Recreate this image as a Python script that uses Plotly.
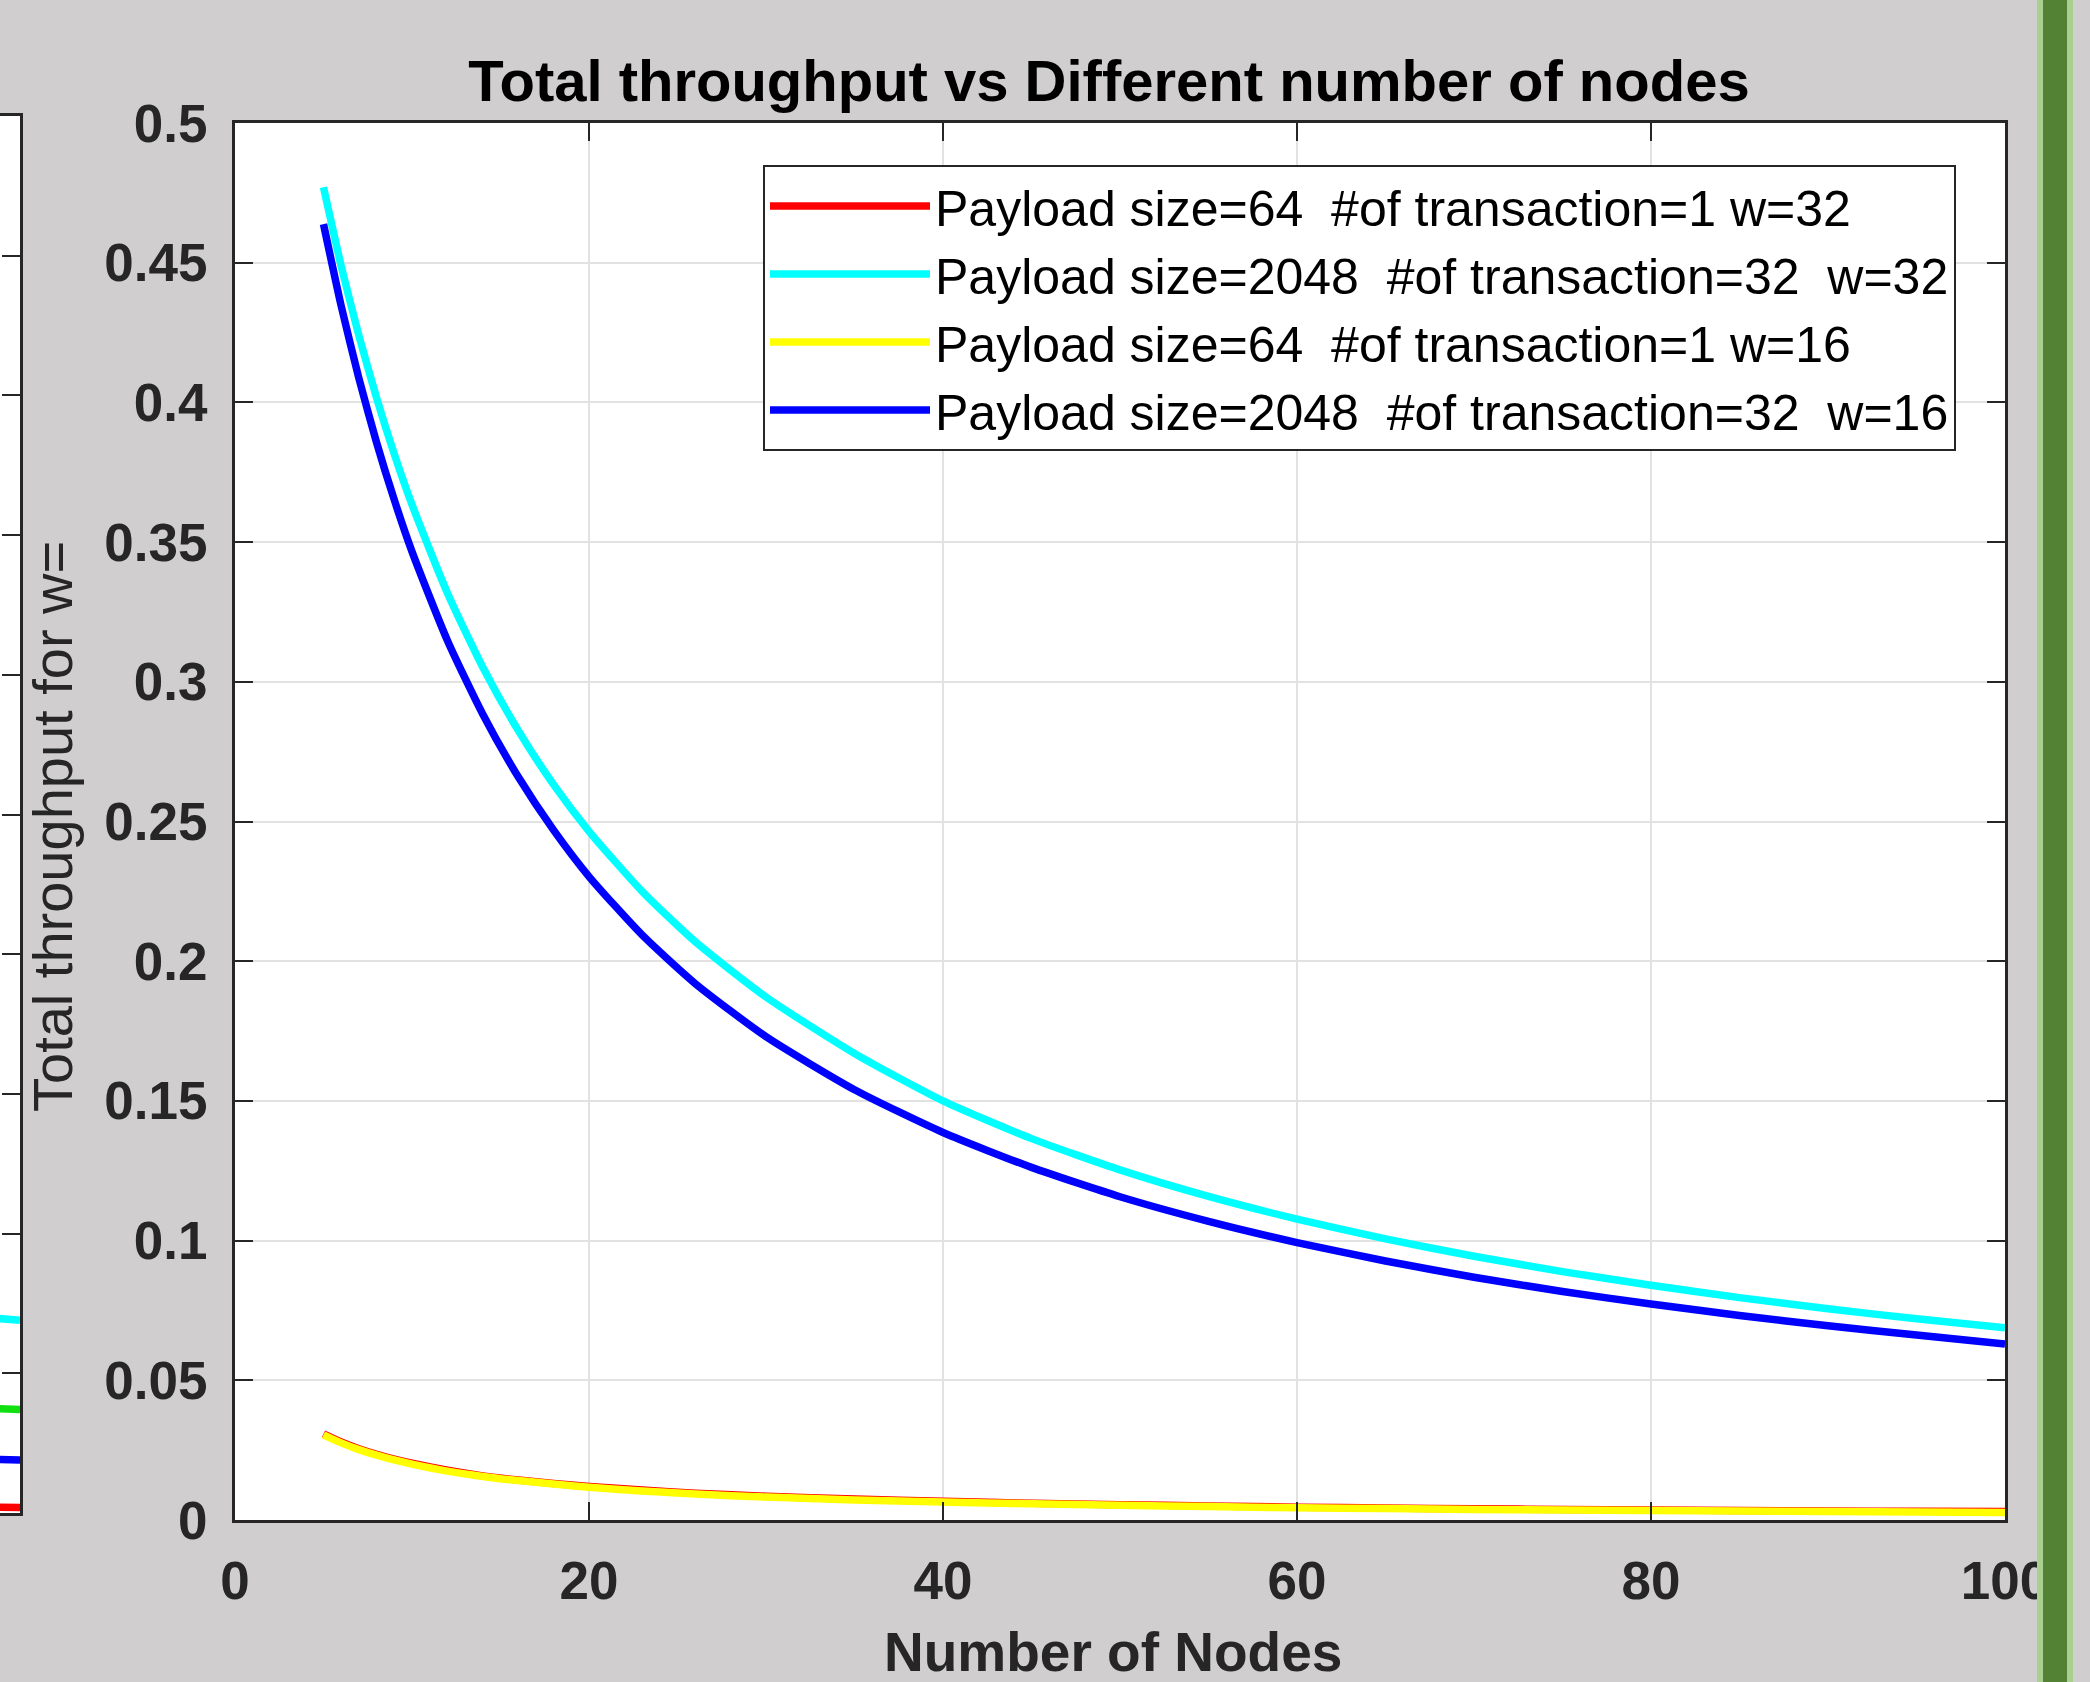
import plotly.graph_objects as go

# ---------------- data ----------------
nodes = [5, 6, 7, 8, 9, 10, 12, 14, 16, 18, 20, 23, 26, 30, 35, 40, 45, 50,
         55, 60, 65, 70, 75, 80, 85, 90, 95, 100]

thr_p64_t1_w32 = [0.0308, 0.0279, 0.0255, 0.0235, 0.0218, 0.0203, 0.0178,
                  0.0158, 0.0143, 0.0131, 0.0120, 0.0107, 0.0096, 0.0085,
                  0.0075, 0.0067, 0.0060, 0.0055, 0.0050, 0.0046, 0.0043,
                  0.0040, 0.0038, 0.0036, 0.0034, 0.0032, 0.0031, 0.0030]
thr_p2048_t32_w32 = [0.4770, 0.4488, 0.4239, 0.4016, 0.3815, 0.3634, 0.3318,
                     0.3052, 0.2826, 0.2632, 0.2465, 0.2250, 0.2070, 0.1872,
                     0.1670, 0.1500, 0.1365, 0.1253, 0.1158, 0.1077, 0.1006,
                     0.0944, 0.0889, 0.0840, 0.0796, 0.0756, 0.0720, 0.0688]
thr_p64_t1_w16 = [0.0305, 0.0276, 0.0252, 0.0232, 0.0215, 0.0200, 0.0175,
                  0.0156, 0.0141, 0.0129, 0.0117, 0.0104, 0.0093, 0.0082,
                  0.0072, 0.0064, 0.0058, 0.0053, 0.0048, 0.0044, 0.0041,
                  0.0038, 0.0036, 0.0034, 0.0032, 0.0030, 0.0029, 0.0027]
thr_p2048_t32_w16 = [0.4638, 0.4345, 0.4086, 0.3856, 0.3651, 0.3466, 0.3148,
                     0.2884, 0.2660, 0.2469, 0.2303, 0.2094, 0.1920, 0.1730,
                     0.1540, 0.1387, 0.1262, 0.1157, 0.1069, 0.0993, 0.0927,
                     0.0869, 0.0818, 0.0773, 0.0732, 0.0695, 0.0662, 0.0630]

series_names = [
    "Payload size=64\u00a0 #of transaction=1 w=32",
    "Payload size=2048\u00a0 #of transaction=32\u00a0 w=32",
    "Payload size=64\u00a0 #of transaction=1 w=16",
    "Payload size=2048\u00a0 #of transaction=32\u00a0 w=16",
]
series_values = [thr_p64_t1_w32, thr_p2048_t32_w32, thr_p64_t1_w16, thr_p2048_t32_w16]
series_colors = ["#ff0000", "#00ffff", "#ffff00", "#0000ff"]

# neighbouring (cropped) panel on the far left: only its right end is visible
left_nodes = [96, 100]
left_cyan = [0.071, 0.069]
left_green = [0.038, 0.037]
left_blue = [0.0195, 0.019]
left_red = [0.0021, 0.0020]
left_values = [left_cyan, left_green, left_blue, left_red]
left_colors = ["#00ffff", "#10e010", "#0000ff", "#ff0000"]

x_tickvals = [0, 20, 40, 60, 80, 100]
x_ticktext = ["0", "20", "40", "60", "80", "100"]
y_tickvals = [0, 0.05, 0.1, 0.15, 0.2, 0.25, 0.3, 0.35, 0.4, 0.45, 0.5]
y_ticktext = ["0", "0.05", "0.1", "0.15", "0.2", "0.25", "0.3", "0.35", "0.4", "0.45", "0.5"]

title_text = "Total throughput vs Different number of nodes"
xlabel_text = "Number of Nodes"
ylabel_text = "Total throughput for w="

# ---------------- figure ----------------
W, H = 2090, 1682
FONT = "Liberation Sans, Arial, sans-serif"
AX = "#262626"
BG = "#d0cecf"
LW = 7.5

fig = go.Figure()

for name, vals, col in zip(series_names, series_values, series_colors):
    fig.add_trace(go.Scatter(
        x=nodes, y=vals, name=name, mode="lines",
        line=dict(color=col, width=LW, shape="spline", smoothing=0.6),
        xaxis="x", yaxis="y",
    ))

for vals, col in zip(left_values, left_colors):
    fig.add_trace(go.Scatter(
        x=left_nodes, y=vals, mode="lines", showlegend=False,
        line=dict(color=col, width=LW), xaxis="x2", yaxis="y2",
    ))

tickfont = dict(family=FONT, size=53, color=AX, weight="bold")
common = dict(ticks="inside", ticklen=18, tickwidth=2, tickcolor=AX,
              showline=True, linecolor=AX, linewidth=3, zeroline=False,
              automargin=False)

fig.update_layout(
    width=W, height=H, autosize=False,
    margin=dict(l=0, r=0, t=0, b=0, pad=0, autoexpand=False),
    paper_bgcolor=BG, plot_bgcolor="white",
    title=dict(text=title_text, x=1109 / W, xanchor="center", xref="paper",
               y=1 - 81 / H, yanchor="middle", yref="paper",
               font=dict(family=FONT, size=58, color="black", weight="bold")),
    xaxis=dict(domain=[235 / W, 2005 / W], range=[0, 100], anchor="y",
               tickvals=x_tickvals, ticktext=x_ticktext, tickfont=tickfont,
               mirror="ticks", showgrid=True, gridcolor="#e2e2e2", gridwidth=2,
               ticklabelstandoff=12, **common),
    yaxis=dict(domain=[1 - 1520 / H, 1 - 123 / H], range=[0, 0.5], anchor="x",
               tickvals=y_tickvals, ticktext=y_ticktext, tickfont=tickfont,
               mirror="ticks", showgrid=True, gridcolor="#e2e2e2", gridwidth=2,
               ticklabelstandoff=14, **common),
    xaxis2=dict(domain=[0, 20 / W], range=[98.87, 100], anchor="y2",
                tickvals=[100], ticktext=["100"], tickfont=tickfont,
                mirror=True, showgrid=False, ticklabelstandoff=12, **common),
    yaxis2=dict(domain=[1 - 1513 / H, 1 - 116 / H], range=[0, 0.5], anchor="x2",
                side="right", tickvals=y_tickvals, showticklabels=False,
                mirror=False, showgrid=False, **common),
    legend=dict(x=763 / W, y=1 - 165 / H, xanchor="left", yanchor="top",
                bgcolor="white", bordercolor=AX, borderwidth=2,
                font=dict(family=FONT, size=50, color="black"),
                itemwidth=160, tracegroupgap=0),
    showlegend=True,
)

fig.add_annotation(text=ylabel_text, xref="paper", yref="paper",
                   x=53 / W, y=1 - 827 / H, xanchor="center", yanchor="middle",
                   textangle=-90, showarrow=False,
                   font=dict(family=FONT, size=56, color=AX))
fig.add_annotation(text=xlabel_text, xref="paper", yref="paper",
                   x=1113 / W, y=1 - 1652 / H, xanchor="center", yanchor="middle",
                   showarrow=False,
                   font=dict(family=FONT, size=55, color=AX, weight="bold"))

# window border strip on the right (part of the screenshot)
fig.add_shape(type="rect", xref="paper", yref="paper", layer="above",
              x0=2037 / W, x1=2073 / W, y0=0, y1=1, line=dict(width=0),
              fillcolor="#a9d08e")
fig.add_shape(type="rect", xref="paper", yref="paper", layer="above",
              x0=2043 / W, x1=2067 / W, y0=0, y1=1, line=dict(width=0),
              fillcolor="#548235")

fig.write_html(
    "out.html",
    config={"displayModeBar": False},
    post_script="document.body.style.margin='0';document.body.style.overflow='hidden';",
)
